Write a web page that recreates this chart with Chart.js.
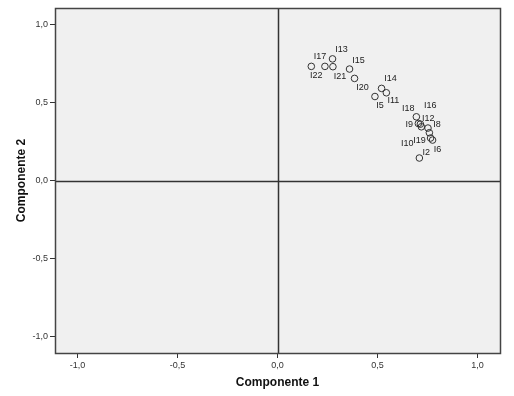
<!DOCTYPE html>
<html>
<head>
<meta charset="utf-8">
<script src="https://cdn.jsdelivr.net/npm/chart.js@4.4.0/dist/chart.umd.min.js"></script>
<style>
  body { margin: 0; background: #fff; }
  #wrap { width: 514px; height: 396px; }
</style>
</head>
<body>
<div id="wrap"><canvas id="plot"></canvas></div>
<script>
// loadings
const itemNames = ['I22', 'I17', 'I13', 'I21', 'I15', 'I20', 'I14', 'I11', 'I5',
    'I18', 'I9', 'I16', 'I12', 'I8', 'I10', 'I19', 'I6', 'I2'];
const comp1 = [0.169, 0.237, 0.275, 0.277, 0.360, 0.385, 0.520, 0.544, 0.487,
    0.694, 0.704, 0.714, 0.719, 0.752, 0.759, 0.765, 0.775, 0.709];
const comp2 = [0.731, 0.731, 0.779, 0.729, 0.714, 0.654, 0.590, 0.562, 0.538,
    0.408, 0.365, 0.361, 0.344, 0.336, 0.306, 0.272, 0.259, 0.144];
const xTicks = [-1, -0.5, 0, 0.5, 1];
const yTicks = [-1, -0.5, 0, 0.5, 1];

// where each label sits relative to its marker (px)
const labelOffsets = [[5, 9], [-5, -10], [9, -9], [7, 10], [9, -9], [8, 9], [9, -10], [7, 8], [5, 9],
    [-8, -8], [-9, 1], [10, -19], [7, -8], [9, -4], [-22, 11], [-11, 2], [5, 9], [7, -6]];

const points = comp1.map((x, i) => ({ x: x, y: comp2[i] }));

function fmt(v) {
    return v.toFixed(1).replace('.', ',');
}

const frame = {
    id: 'frame',
    beforeDatasetsDraw(chart) {
        const { ctx, chartArea: a, scales } = chart;
        ctx.save();
        ctx.fillStyle = '#f0f0f0';
        ctx.fillRect(a.left, a.top, a.right - a.left, a.bottom - a.top);
        // zero lines
        ctx.strokeStyle = '#333';
        ctx.lineWidth = 1.5;
        const x0 = Math.round(scales.x.getPixelForValue(0)) + 0.5;
        const y0 = Math.round(scales.y.getPixelForValue(0)) + 0.5;
        ctx.beginPath();
        ctx.moveTo(x0, a.top);
        ctx.lineTo(x0, a.bottom);
        ctx.moveTo(a.left, y0);
        ctx.lineTo(a.right, y0);
        ctx.stroke();
        ctx.restore();
    },
    afterDatasetsDraw(chart) {
        const { ctx, chartArea: a } = chart;
        ctx.save();
        ctx.strokeStyle = '#444';
        ctx.lineWidth = 1.5;
        ctx.strokeRect(Math.round(a.left) + 0.5, Math.round(a.top) + 0.5,
            Math.round(a.right - a.left), Math.round(a.bottom - a.top));
        // item labels
        const meta = chart.getDatasetMeta(0);
        ctx.fillStyle = '#222';
        ctx.font = '9px "Liberation Sans", Arial, sans-serif';
        ctx.textAlign = 'center';
        ctx.textBaseline = 'middle';
        meta.data.forEach((el, i) => {
            const off = labelOffsets[i];
            ctx.fillText(itemNames[i], el.x + off[0], el.y + off[1]);
        });
        ctx.restore();
    }
};

new Chart(document.getElementById('plot'), {
    type: 'scatter',
    data: {
        datasets: [{
            data: points,
            pointStyle: 'circle',
            pointRadius: 3.3,
            pointBorderWidth: 1,
            pointBorderColor: '#333',
            pointBackgroundColor: 'rgba(0,0,0,0)'
        }]
    },
    options: {
        responsive: true,
        maintainAspectRatio: false,
        animation: false,
        layout: { padding: { top: 8, right: 14, left: 0, bottom: 0 } },
        plugins: { legend: { display: false }, tooltip: { enabled: false } },
        scales: {
            x: {
                type: 'linear',
                min: -1.112,
                max: 1.112,
                afterBuildTicks: (s) => { s.ticks = xTicks.map(v => ({ value: v })); },
                afterFit: (s) => { s.height = 43; },
                grid: { drawOnChartArea: false, drawTicks: true, tickLength: 5, color: '#333' },
                border: { display: false },
                ticks: {
                    padding: 2,
                    color: '#333',
                    font: { size: 9, family: '"Liberation Sans", Arial, sans-serif' },
                    callback: (v) => fmt(v)
                },
                title: {
                    display: true,
                    text: 'Componente 1',
                    color: '#111',
                    padding: { top: 4, bottom: 6 },
                    font: { size: 12, weight: 'bold', family: '"Liberation Sans", Arial, sans-serif' }
                }
            },
            y: {
                type: 'linear',
                min: -1.105,
                max: 1.105,
                afterBuildTicks: (s) => { s.ticks = yTicks.map(v => ({ value: v })); },
                afterFit: (s) => { s.width = 55; },
                grid: { drawOnChartArea: false, drawTicks: true, tickLength: 5, color: '#333' },
                border: { display: false },
                ticks: {
                    padding: 2,
                    color: '#333',
                    font: { size: 9, family: '"Liberation Sans", Arial, sans-serif' },
                    callback: (v) => fmt(v)
                },
                title: {
                    display: true,
                    text: 'Componente 2',
                    color: '#111',
                    padding: { top: 14, bottom: 4 },
                    font: { size: 12, weight: 'bold', family: '"Liberation Sans", Arial, sans-serif' }
                }
            }
        }
    },
    plugins: [frame]
});
</script>
</body>
</html>
